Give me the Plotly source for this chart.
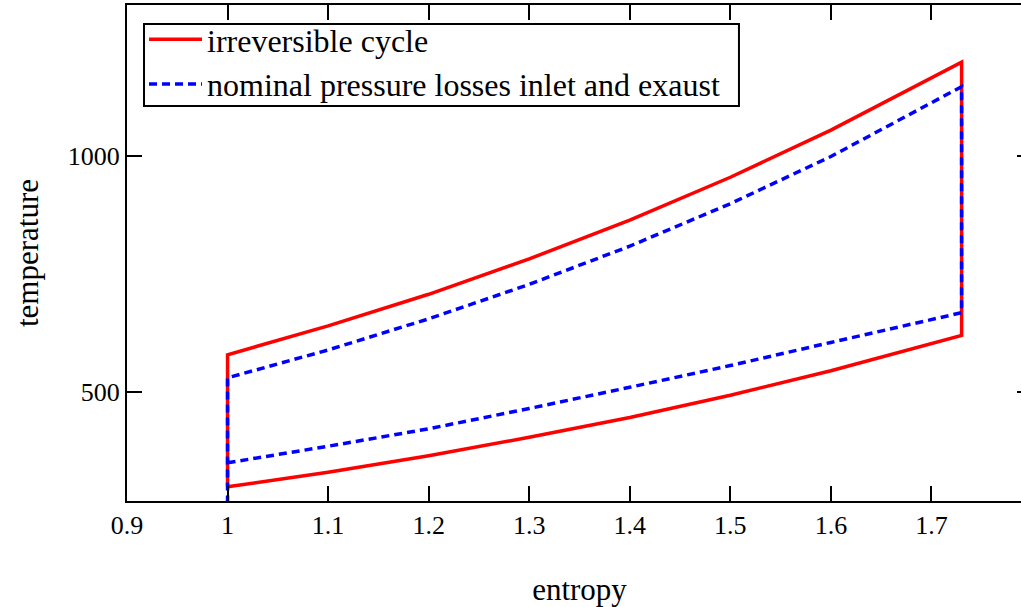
import plotly.graph_objects as go

# ---- data ----
entropy = [1.0, 1.1, 1.2, 1.3, 1.4, 1.5, 1.6, 1.73]

# irreversible cycle (red)
red_upper = [579, 640, 707, 782, 864, 955, 1055, 1199]
red_lower = [299, 330, 365, 404, 446, 493, 545, 620]

# nominal pressure losses inlet and exaust (blue)
blue_upper = [530, 589, 655, 728, 809, 899, 999, 1147]
blue_lower = [350, 385, 422, 465, 510, 556, 605, 668]
blue_compression_start = 255  # vertical line at s=1 continues below the axis

x_ticks = [0.9, 1.0, 1.1, 1.2, 1.3, 1.4, 1.5, 1.6, 1.7, 1.8]
x_tick_text = ["0.9", "1", "1.1", "1.2", "1.3", "1.4", "1.5", "1.6", "1.7", "1.8"]
y_ticks = [500, 1000]

# ---- build closed paths ----
red_s = entropy + entropy[::-1] + [entropy[0]]
red_T = red_lower + red_upper[::-1] + [red_lower[0]]

blue_s = entropy + entropy[::-1] + [entropy[0]]
blue_T = blue_lower + blue_upper[::-1] + [blue_compression_start]

FONT = "Liberation Serif, Times New Roman, serif"

fig = go.Figure()
fig.add_trace(go.Scatter(
    x=red_s, y=red_T, mode="lines", name="irreversible cycle",
    line=dict(color="#ff0000", width=3.5),
))
fig.add_trace(go.Scatter(
    x=blue_s, y=blue_T, mode="lines", name="nominal pressure losses inlet and exaust",
    line=dict(color="#0000ff", width=3.5, dash="8px,5px"),
))
# invisible trace to host right-side ticks
fig.add_trace(go.Scatter(x=[entropy[0]], y=[red_upper[0]], yaxis="y2",
                         mode="none", showlegend=False, hoverinfo="skip"))

yr = [269, 1320]
fig.update_layout(
    width=1032, height=607,
    margin=dict(l=127, r=0, t=5, b=106),
    plot_bgcolor="white", paper_bgcolor="white",
    font=dict(family=FONT, color="black", size=26),
    showlegend=True,
    legend=dict(
        x=0.0188, y=0.9859, xanchor="left", yanchor="top",
        borderwidth=0, bgcolor="rgba(0,0,0,0)",
        font=dict(family=FONT, size=32, color="black"),
        itemwidth=53, tracegroupgap=0,
    ),
    # frame around the legend entries
    shapes=[dict(
        type="rect", xref="paper", yref="paper", layer="above",
        x0=0.0188, x1=0.6762, y0=0.7964, y1=0.9617,
        line=dict(color="black", width=2), fillcolor="rgba(0,0,0,0)",
    )],
    xaxis=dict(
        range=[0.9, 1.8], tickvals=x_ticks, ticktext=x_tick_text,
        showline=True, linecolor="black", linewidth=2, mirror="ticks",
        ticks="inside", ticklen=15, tickwidth=2, tickcolor="black",
        showgrid=False, zeroline=False,
        tickfont=dict(family=FONT, size=26),
        title=dict(text="entropy", font=dict(family=FONT, size=31), standoff=40),
    ),
    yaxis=dict(
        range=yr, tickvals=y_ticks,
        showline=True, linecolor="black", linewidth=2, mirror=False,
        ticks="inside", ticklen=15, tickwidth=2, tickcolor="black",
        showgrid=False, zeroline=False,
        tickfont=dict(family=FONT, size=26),
        title=dict(text="temperature", font=dict(family=FONT, size=31), standoff=20),
    ),
    yaxis2=dict(
        range=yr, tickvals=y_ticks, overlaying="y", side="right",
        showline=False, ticks="inside", ticklen=15, tickwidth=2, tickcolor="black",
        showticklabels=False, showgrid=False, zeroline=False,
    ),
)

fig.write_html(
    "out.html",
    config={"displayModeBar": False},
    post_script="document.body.style.margin='0';document.body.style.overflow='hidden';"
                "document.documentElement.style.overflow='hidden';",
)
